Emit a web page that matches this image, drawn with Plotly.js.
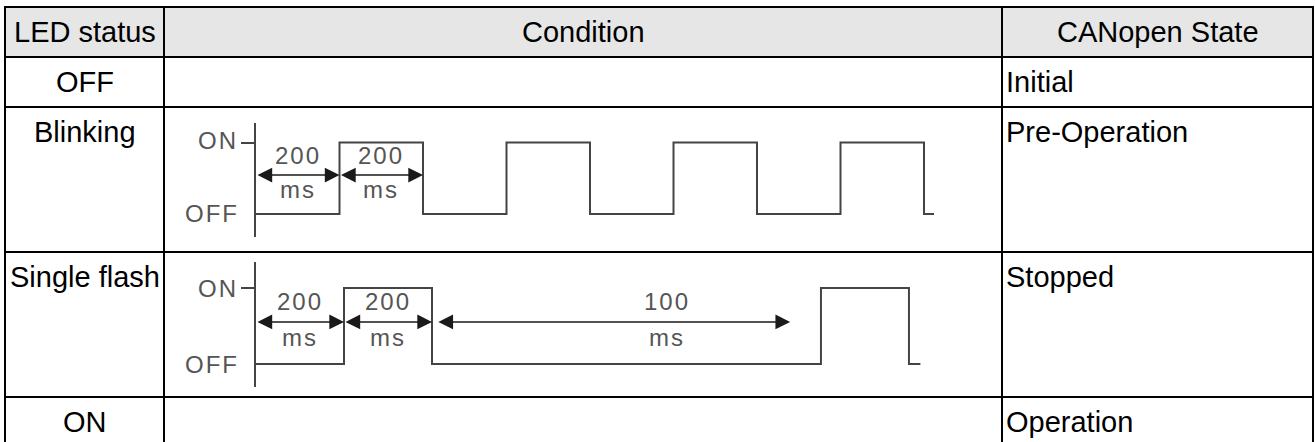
<!DOCTYPE html>
<html>
<head>
<meta charset="utf-8">
<script src="https://cdn.plot.ly/plotly-3.0.1.min.js"></script>
<style>
html,body{margin:0;padding:0;background:#fff;overflow:hidden}
#chart{width:1315px;height:442px}
</style>
</head>
<body>
<div id="chart"></div>
<script>
// ---------- data ----------
const headers = ['LED status', 'Condition', 'CANopen State'];
const ledStatus = ['OFF', 'Blinking', 'Single flash', 'ON'];
const canopenState = ['Initial', 'Pre-Operation', 'Stopped', 'Operation'];
const levelLabels = ['ON', 'OFF'];
const levelValues = [1, 0];

// Blinking waveform (time in ms, level 1 = ON, 0 = OFF)
const blinkTime  = [0, 200, 400, 600, 800, 1000, 1200, 1400, 1600, 1624];
const blinkLevel = [0, 1, 0, 1, 0, 1, 0, 1, 0, 0];
const blinkDimStart = [0, 200];
const blinkDimEnd   = [200, 400];
const blinkDimValue = ['200', '200'];
const blinkDimUnit  = ['ms', 'ms'];
const blinkDimLabelAt = [100, 300];

// Single flash waveform
const flashTime  = [0, 200, 400, 1284, 1484, 1510];
const flashLevel = [0, 1, 0, 1, 0, 0];
const flashDimStart = [0, 200, 411];
const flashDimEnd   = [200, 400, 1214];
const flashDimValue = ['200', '200', '100'];
const flashDimUnit  = ['ms', 'ms', 'ms'];
const flashDimLabelAt = [100, 300, 934];

// ---------- layout geometry ----------
const W = 1315, H = 442;
const px = v => v / W;
const py = v => 1 - v / H;
const colX = [5, 164, 1002, 1313];
const rowY = [7, 57, 107, 252, 397];
const tableBottom = 446;
const textCapY = [82, 132, 277, 422];
const headerY = 32;

const tableFont = {family: 'Liberation Sans, Arial, sans-serif', size: 29, color: '#000'};
const diagFont = {family: 'Liberation Sans, Arial, sans-serif', size: 24, color: '#555'};
const waveColor = '#444';

const shapes = [];
shapes.push({type: 'rect', xref: 'paper', yref: 'paper', x0: px(colX[0]), x1: px(colX[3]),
  y0: py(rowY[1]), y1: py(rowY[0]), fillcolor: '#e6e6e6', line: {width: 0}, layer: 'below'});
rowY.forEach(y => shapes.push({type: 'line', xref: 'paper', yref: 'paper',
  x0: px(colX[0] - 1), x1: px(colX[3] + 1), y0: py(y), y1: py(y), line: {color: '#000', width: 2}}));
colX.forEach(x => shapes.push({type: 'line', xref: 'paper', yref: 'paper',
  x0: px(x), x1: px(x), y0: py(rowY[0] - 1), y1: py(tableBottom), line: {color: '#000', width: 2}}));

const annotations = [];
const spacedIdx = [];
function addAnn(a, spaced) {
  if (spaced) spacedIdx.push(annotations.length);
  annotations.push(Object.assign({showarrow: false}, a));
}
headers.forEach((h, i) => addAnn({text: h, xref: 'paper', yref: 'paper',
  x: px((colX[i] + colX[i + 1]) / 2), y: py(headerY), xanchor: 'center', yanchor: 'middle', font: tableFont}));
ledStatus.forEach((s, i) => addAnn({text: s, xref: 'paper', yref: 'paper',
  x: px((colX[0] + colX[1]) / 2), y: py(textCapY[i]), xanchor: 'center', yanchor: 'middle', font: tableFont}));
canopenState.forEach((s, i) => addAnn({text: s, xref: 'paper', yref: 'paper',
  x: px(colX[2] + 2), y: py(textCapY[i]), xanchor: 'left', yanchor: 'middle', font: tableFont}));

// diagram labels
function diagram(xa, ya, starts, ends, values, units, labelAt, arrowY, valueY, unitY, levelShift) {
  levelLabels.forEach((l, i) => addAnn({text: l, xref: 'paper', yref: ya, x: px(238), y: levelValues[i],
    xanchor: 'right', yanchor: 'middle', yshift: levelShift[i], font: diagFont}, true));
  starts.forEach((s, i) => {
    annotations.push({text: '', xref: xa, yref: ya, axref: xa, ayref: ya,
      x: ends[i], y: arrowY, ax: s, ay: arrowY, showarrow: true,
      arrowhead: 2, startarrowhead: 2, arrowside: 'end+start', arrowsize: 2.1, startarrowsize: 2.1,
      arrowwidth: 1.4, arrowcolor: '#1a1a1a', standoff: 0, startstandoff: 0});
    addAnn({text: values[i], xref: xa, yref: ya, x: labelAt[i], y: valueY, xanchor: 'center', yanchor: 'middle', font: diagFont}, true);
    addAnn({text: units[i], xref: xa, yref: ya, x: labelAt[i], y: unitY, xanchor: 'center', yanchor: 'middle', font: diagFont}, true);
  });
}
diagram('x', 'y', blinkDimStart, blinkDimEnd, blinkDimValue, blinkDimUnit, blinkDimLabelAt, 0.545, 0.825, 0.336, [2, 1]);
diagram('x2', 'y2', flashDimStart, flashDimEnd, flashDimValue, flashDimUnit, flashDimLabelAt, 0.553, 0.816, 0.355, [0, 0]);

const hidden = {showgrid: false, zeroline: false, showticklabels: false, ticks: '', showline: false, fixedrange: true};
const layout = {
  width: W, height: H,
  margin: {l: 0, r: 0, t: 0, b: 0, pad: 0},
  paper_bgcolor: '#fff', plot_bgcolor: 'rgba(0,0,0,0)',
  showlegend: false,
  xaxis: Object.assign({}, hidden, {domain: [px(256), px(256 + 0.4175 * 1680)], range: [0, 1680], anchor: 'y'}),
  yaxis: Object.assign({}, hidden, {domain: [py(237), py(123)], range: [-(237 - 214) / 71.5, 1 + (142.5 - 123) / 71.5],
    anchor: 'x', showline: true, linecolor: waveColor, linewidth: 2, ticks: 'outside', tickvals: [1], ticklen: 13,
    tickwidth: 2, tickcolor: waveColor}),
  xaxis2: Object.assign({}, hidden, {domain: [px(256), px(256 + 0.44 * 1600)], range: [0, 1600], anchor: 'y2'}),
  yaxis2: Object.assign({}, hidden, {domain: [py(387), py(262)], range: [-(387 - 364) / 76, 1 + (288 - 262) / 76],
    anchor: 'x2', showline: true, linecolor: waveColor, linewidth: 2, ticks: 'outside', tickvals: [1], ticklen: 13,
    tickwidth: 2, tickcolor: waveColor}),
  shapes: shapes,
  annotations: annotations
};

const traces = [
  {type: 'scatter', mode: 'lines', x: blinkTime, y: blinkLevel, xaxis: 'x', yaxis: 'y',
   line: {shape: 'hv', color: waveColor, width: 2}, hoverinfo: 'skip'},
  {type: 'scatter', mode: 'lines', x: flashTime, y: flashLevel, xaxis: 'x2', yaxis: 'y2',
   line: {shape: 'hv', color: waveColor, width: 2}, hoverinfo: 'skip'}
];

Plotly.newPlot('chart', traces, layout, {staticPlot: true, displayModeBar: false}).then(gd => {
  const anns = gd.querySelectorAll('.annotation');
  anns.forEach(a => {
    const idx = +a.getAttribute('data-index');
    if (spacedIdx.indexOf(idx) >= 0) {
      const t = a.querySelector('.annotation-text');
      if (t) t.style.letterSpacing = '2px';
    }
  });
});
</script>
</body>
</html>
